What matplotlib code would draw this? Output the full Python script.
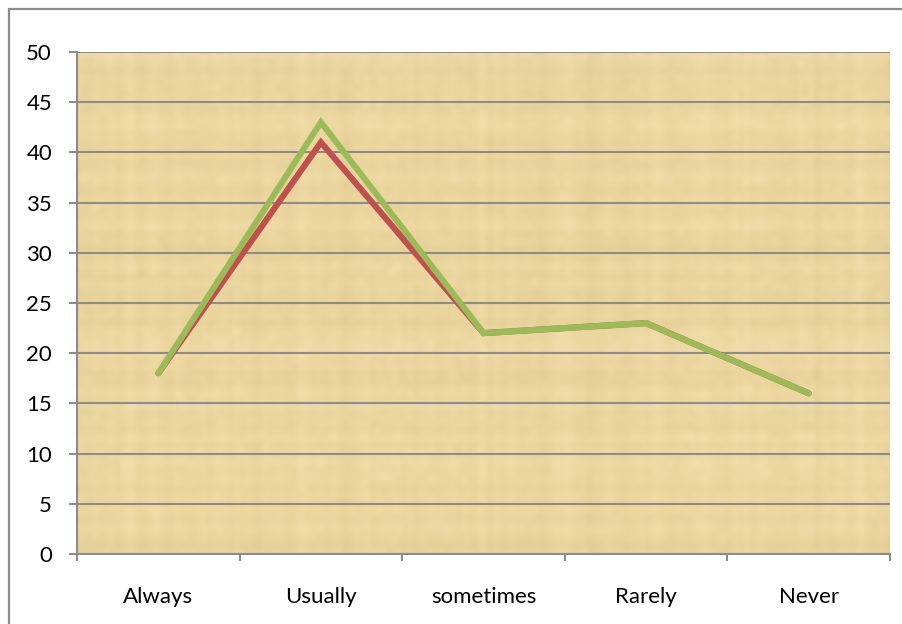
import matplotlib.pyplot as plt
import numpy as np
from matplotlib.patches import Rectangle

categories = ['Always', 'Usually', 'sometimes', 'Rarely', 'Never']
series_red = [18, 41, 22, 23, 16]
series_green = [18, 43, 22, 23, 16]
y_ticks = [0, 5, 10, 15, 20, 25, 30, 35, 40, 45, 50]

grid_col = '#8C8C8C'
plt.rcParams['font.family'] = ['Lato', 'DejaVu Sans']

fig = plt.figure(figsize=(9.02, 6.24), dpi=100)
ax = fig.add_axes([0.0854, 0.1122, 0.9013, 0.8045])

# outer chart border (runs past the right and bottom edges)
fig.patches.append(Rectangle((9 / 902, -0.05), 1.2, 1 - 9 / 624 + 0.05,
                             transform=fig.transFigure, fill=False,
                             edgecolor=grid_col, linewidth=1.6))

# parchment-like background: base tint with faint streaks
rs = np.random.RandomState(3)
rows = rs.normal(0, 1, (90, 1)) * 0.4
cols = rs.normal(0, 1, (1, 150)) * 0.4
speck = rs.normal(0, 1, (90, 150)) * 0.35
tex = rows + cols + speck
base = np.array([235, 214, 160]) / 255
img = np.clip(base[None, None, :] + tex[:, :, None] * np.array([0.022, 0.022, 0.028]), 0, 1)
ax.imshow(img, extent=(-0.5, 4.5, 0, 50), aspect='auto', interpolation='bicubic', zorder=0)

x = np.arange(len(categories))
ax.plot(x, series_red, color='#C0504D', lw=4.4, solid_capstyle='round', solid_joinstyle='miter', zorder=3)
ax.plot(x, series_green, color='#9BBB59', lw=4.4, solid_capstyle='round', solid_joinstyle='miter', zorder=4)

ax.set_xlim(-0.5, 4.5)
ax.set_ylim(0, 50)
ax.set_yticks(y_ticks)
ax.yaxis.grid(True, color=grid_col, lw=1.5)
ax.set_axisbelow(False)
for line in ax.get_ygridlines():
    line.set_zorder(1)

# category boundaries get tick marks, centres get the labels
ax.set_xticks(np.arange(-0.5, 5.0, 1.0))
ax.set_xticklabels([])
ax.set_xticks(x, minor=True)
ax.set_xticklabels(categories, minor=True)
ax.tick_params(axis='x', which='major', length=5, width=1.5, color=grid_col)
ax.tick_params(axis='x', which='minor', length=0, pad=24, labelsize=16)
ax.tick_params(axis='y', length=6, width=1.5, color=grid_col, pad=12, labelsize=16)

for s in ['top', 'right']:
    ax.spines[s].set_visible(False)
for s in ['left', 'bottom']:
    ax.spines[s].set_color(grid_col)
    ax.spines[s].set_linewidth(1.5)

fig.savefig('out.png', dpi=100)
